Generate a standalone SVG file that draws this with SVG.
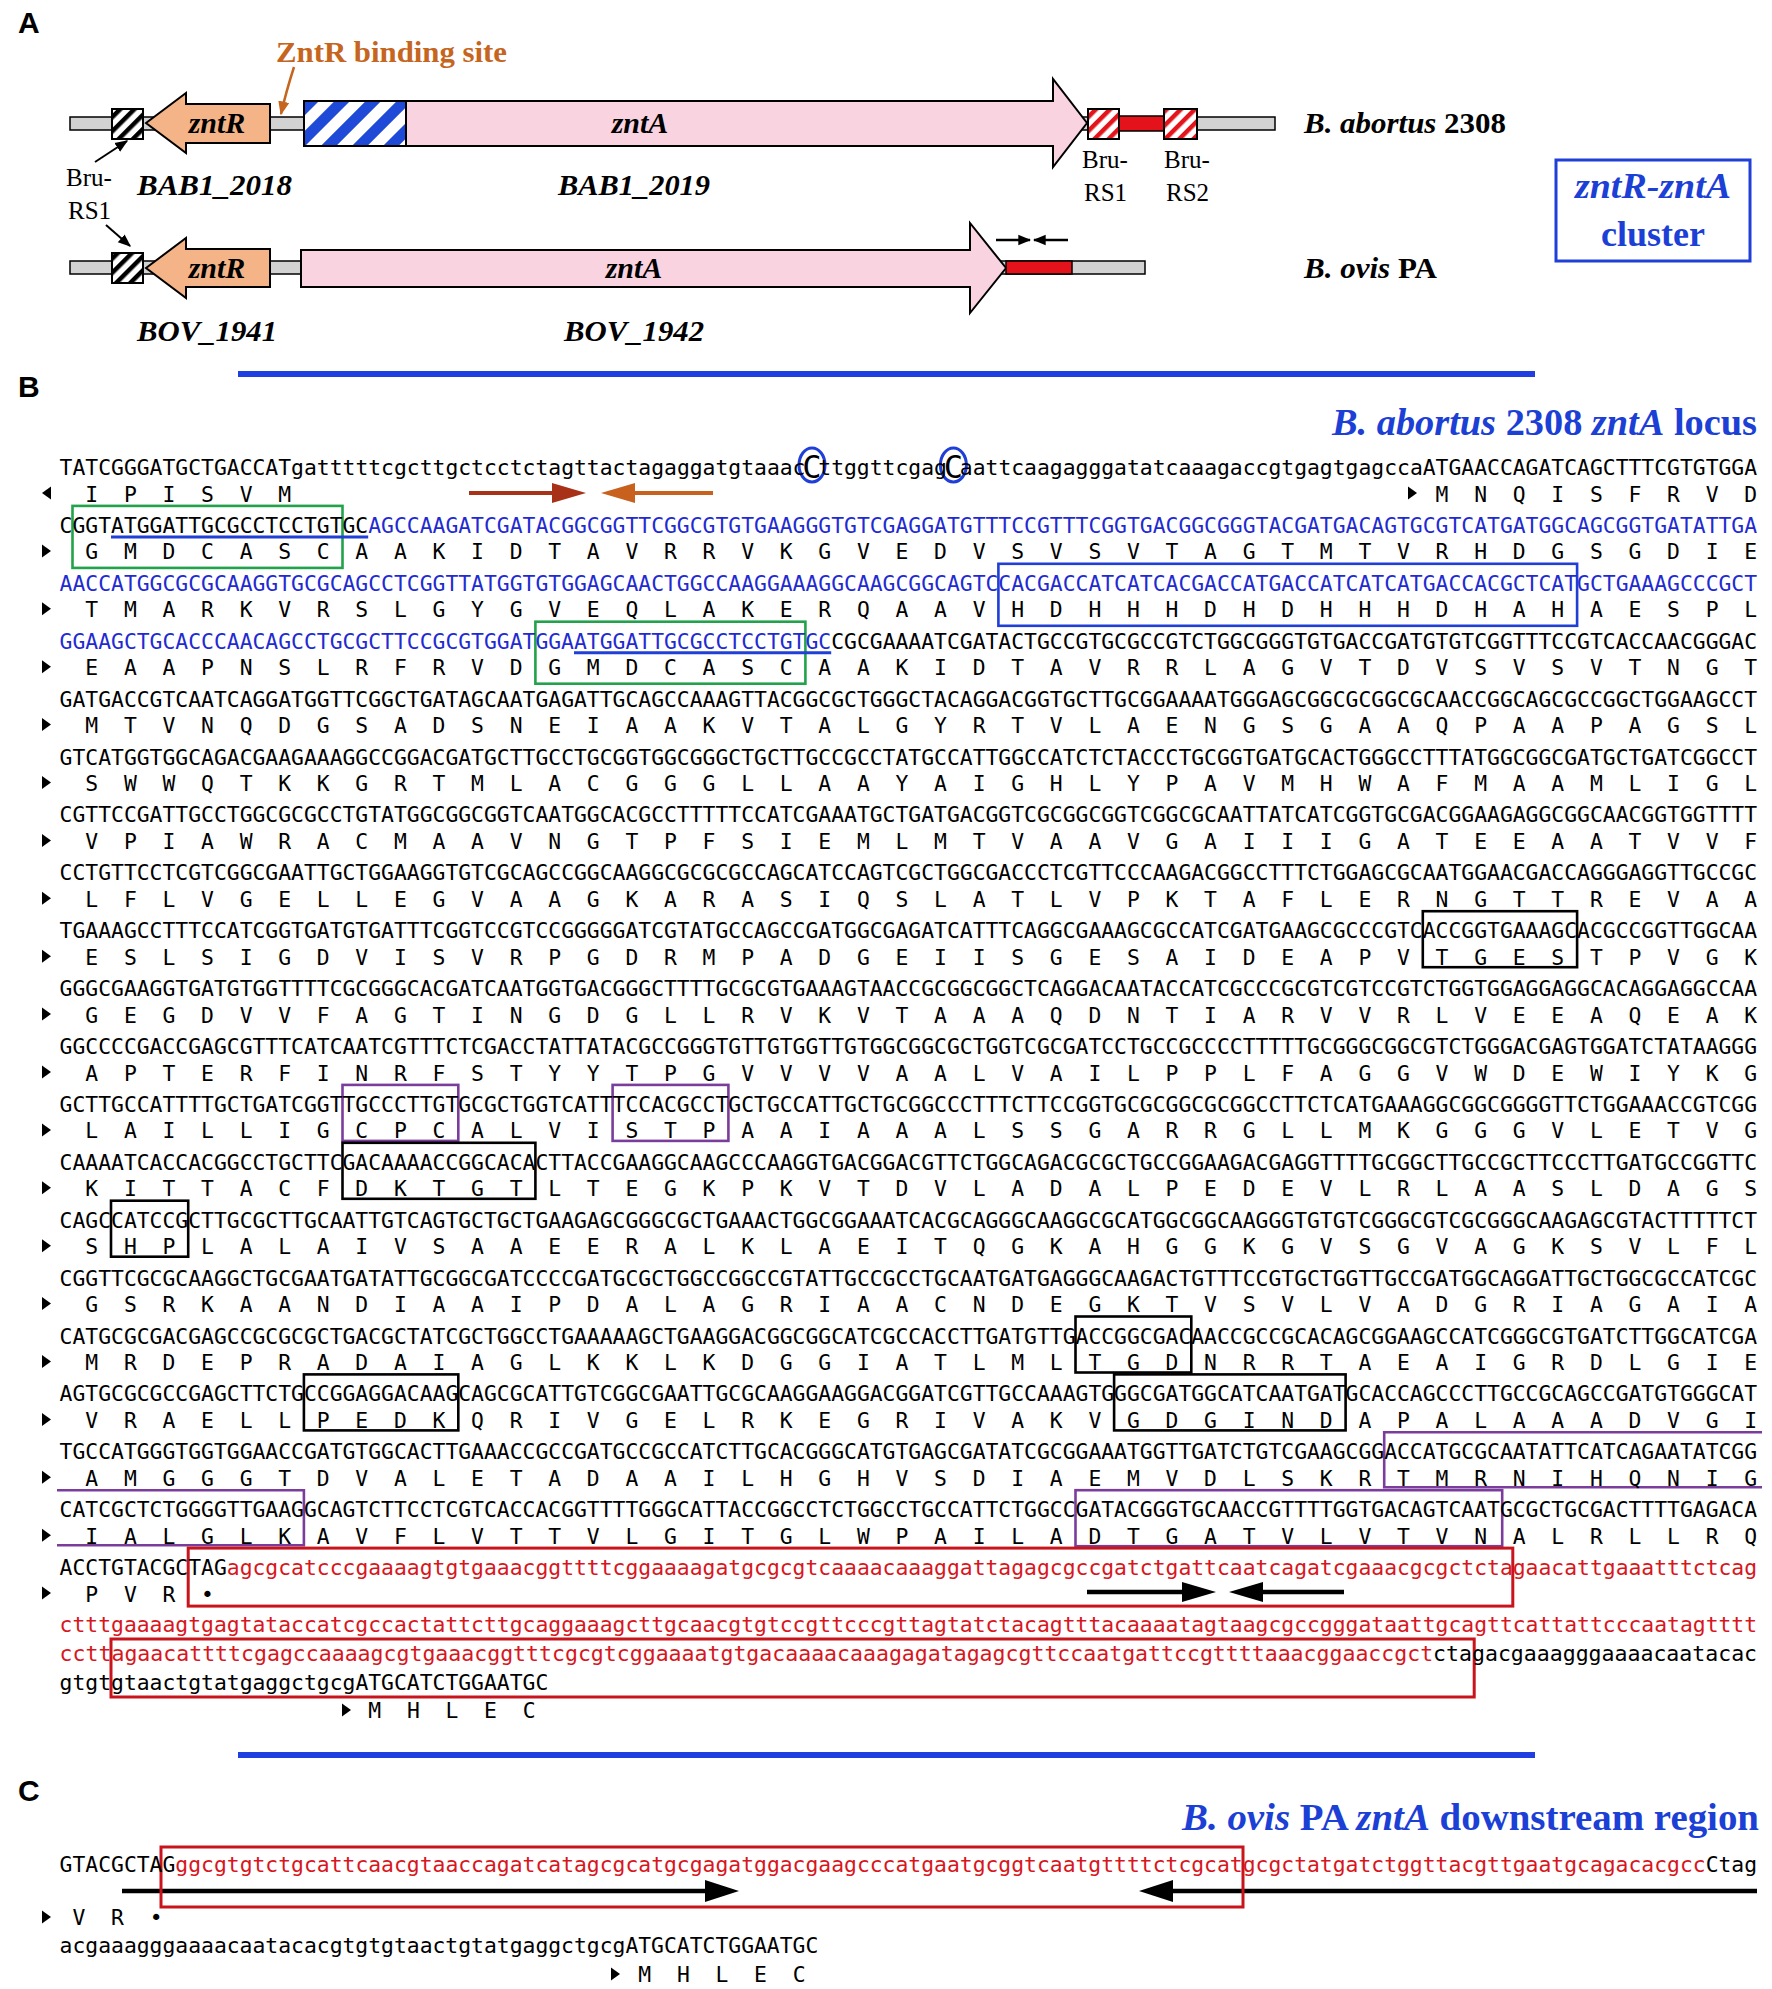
<svg xmlns="http://www.w3.org/2000/svg" width="1772" height="1989" viewBox="0 0 1772 1989">
<defs>
<style>
.d{font-family:"DejaVu Sans Mono","Liberation Mono",monospace;font-size:21.36px;fill:#000}
.p{font-family:"DejaVu Sans Mono","Liberation Mono",monospace;font-size:21.36px;letter-spacing:25.72px;fill:#000}
.z{letter-spacing:0}
.bu{fill:#1f2bd2}
.rd{fill:#d8161d}
.bx{fill:none;stroke-width:2.6}
.g{stroke:#22a24b}
.bb{stroke:#1f3fd6}
.k{stroke:#000}
.pu{stroke:#7b3d9c}
.rb{fill:none;stroke:#c9141b;stroke-width:3}
.s{font-family:"Liberation Serif","Times New Roman",serif;font-weight:bold}
.it{font-style:italic}
.rg{font-family:"Liberation Serif","Times New Roman",serif;font-size:25px;fill:#000}
.lab{font-family:"Liberation Sans",Arial,sans-serif;font-weight:bold;font-size:30px;fill:#000}
.gray{fill:#d2d2d2;stroke:#000;stroke-width:1.5}
.gene{stroke:#000;stroke-width:2}
.ttl{fill:#1c3fd6}
.bigc{font-family:"DejaVu Sans Mono","Liberation Mono",monospace;font-size:32px;fill:#000}
</style>
<pattern id="hk" width="10" height="10" patternUnits="userSpaceOnUse" patternTransform="rotate(45)"><rect width="10" height="10" fill="#fff"/><rect width="4.5" height="10" fill="#000"/></pattern>
<pattern id="hb" width="22" height="22" patternUnits="userSpaceOnUse" patternTransform="rotate(45)"><rect width="22" height="22" fill="#fff"/><rect width="11" height="22" fill="#1f4ad8"/></pattern>
<pattern id="hr" width="10" height="10" patternUnits="userSpaceOnUse" patternTransform="rotate(45)"><rect width="10" height="10" fill="#fff"/><rect width="4.5" height="10" fill="#e3141c"/></pattern>
<path id="tr" d="M0,-6.5 L9,0 L0,6.5Z" fill="#000"/>
<path id="tl" d="M9,-6.5 L0,0 L9,6.5Z" fill="#000"/>
<marker id="mk" viewBox="0 0 10 10" refX="9" refY="5" markerWidth="13" markerHeight="13" markerUnits="userSpaceOnUse" orient="auto"><path d="M0,1 L10,5 L0,9Z" fill="#000"/></marker>
<marker id="mo" viewBox="0 0 10 10" refX="9" refY="5" markerWidth="14" markerHeight="14" markerUnits="userSpaceOnUse" orient="auto"><path d="M0,1 L10,5 L0,9Z" fill="#c5651e"/></marker>
</defs>
<rect width="1772" height="1989" fill="#fff"/>

<!-- ================= PANEL A ================= -->
<g id="panelA">
<text class="lab" x="18" y="33">A</text>
<g id="row-abortus">
<rect class="gray" x="70" y="117" width="1205" height="13"/>
<rect id="bru-rs1-a" x="112" y="109" width="31" height="30" fill="url(#hk)" stroke="#000" stroke-width="2"/>
<g id="zntR-a"><path class="gene" d="M146,123 L186,93 L186,104 L270,104 L270,143 L186,143 L186,153 Z" fill="#f5b487"/>
<text class="s it" x="217" y="133" font-size="30" text-anchor="middle">zntR</text></g>
<rect id="zntr-site" x="304" y="101" width="102" height="45" fill="url(#hb)" stroke="#000" stroke-width="2"/>
<g id="zntA-a"><path class="gene" d="M406,101 L1053,101 L1053,79 L1087,123 L1053,167 L1053,146 L406,146 Z" fill="#f9d3e0"/>
<text class="s it" x="640" y="133" font-size="30" text-anchor="middle">zntA</text></g>
<rect id="bru-rs1-b" x="1088" y="109" width="31" height="30" fill="url(#hr)" stroke="#000" stroke-width="2"/>
<rect x="1119" y="116" width="45" height="15" fill="#e3121b" stroke="#000" stroke-width="1.5"/>
<rect id="bru-rs2" x="1164" y="109" width="33" height="30" fill="url(#hr)" stroke="#000" stroke-width="2"/>
<text class="s" x="1304" y="133" font-size="30" textLength="202" lengthAdjust="spacingAndGlyphs"><tspan class="it">B. abortus</tspan> 2308</text>
<text class="s it" x="137" y="195" font-size="30" textLength="155" lengthAdjust="spacingAndGlyphs">BAB1_2018</text>
<text class="s it" x="558" y="195" font-size="30" textLength="152" lengthAdjust="spacingAndGlyphs">BAB1_2019</text>
<text class="rg" x="1082" y="168">Bru-</text><text class="rg" x="1084" y="201">RS1</text>
<text class="rg" x="1164" y="168">Bru-</text><text class="rg" x="1166" y="201">RS2</text>
</g>
<text class="s" x="276" y="62" font-size="30" fill="#c5651e" textLength="231" lengthAdjust="spacingAndGlyphs">ZntR binding site</text>
<text class="rg" x="66" y="186">Bru-</text><text class="rg" x="68" y="219">RS1</text>
<g id="row-ovis">
<rect class="gray" x="70" y="261" width="1075" height="13"/>
<rect x="112" y="253" width="31" height="30" fill="url(#hk)" stroke="#000" stroke-width="2"/>
<g id="zntR-o"><path class="gene" d="M146,268 L186,238 L186,249 L270,249 L270,287 L186,287 L186,298 Z" fill="#f5b487"/>
<text class="s it" x="217" y="278" font-size="30" text-anchor="middle">zntR</text></g>
<g id="zntA-o"><path class="gene" d="M301,250 L970,250 L970,223 L1006,268 L970,313 L970,287 L301,287 Z" fill="#f9d3e0"/>
<text class="s it" x="634" y="278" font-size="30" text-anchor="middle">zntA</text></g>
<rect x="1006" y="261" width="66" height="13" fill="#e3121b" stroke="#000" stroke-width="1.5"/>
<text class="s" x="1304" y="278" font-size="30" textLength="133" lengthAdjust="spacingAndGlyphs"><tspan class="it">B. ovis</tspan> PA</text>
<text class="s it" x="137" y="341" font-size="30" textLength="140" lengthAdjust="spacingAndGlyphs">BOV_1941</text>
<text class="s it" x="564" y="341" font-size="30" textLength="140" lengthAdjust="spacingAndGlyphs">BOV_1942</text>
</g>
<g id="cluster-box">
<rect x="1556" y="160" width="194" height="101" fill="none" stroke="#1f3fd6" stroke-width="3"/>
<text class="s it ttl" x="1653" y="198" font-size="36" text-anchor="middle" textLength="156" lengthAdjust="spacingAndGlyphs">zntR-zntA</text>
<text class="s ttl" x="1653" y="246" font-size="36" text-anchor="middle">cluster</text>
</g>
</g>

<g id="connectors">
<path d="M294,67 Q286,92 281,114" fill="none" stroke="#c5651e" stroke-width="2.5" marker-end="url(#mo)"/>
<line x1="95" y1="162" x2="127" y2="141" stroke="#000" stroke-width="2" marker-end="url(#mk)"/>
<line x1="106" y1="225" x2="130" y2="246" stroke="#000" stroke-width="2" marker-end="url(#mk)"/>
<line x1="996" y1="240" x2="1030" y2="240" stroke="#000" stroke-width="2.5" marker-end="url(#mk)"/>
<line x1="1068" y1="240" x2="1034" y2="240" stroke="#000" stroke-width="2.5" marker-end="url(#mk)"/>
<line x1="469" y1="493" x2="556" y2="493" stroke="#a83218" stroke-width="4"/>
<polygon points="552,483 586,493 552,503" fill="#a83218"/>
<polygon points="635,483 601,493 635,503" fill="#c8601e"/>
<line x1="632" y1="493" x2="713" y2="493" stroke="#c8601e" stroke-width="4"/>
<line x1="1087" y1="1592" x2="1186" y2="1592" stroke="#000" stroke-width="4.5"/>
<polygon points="1182,1582 1216,1592 1182,1602" fill="#000"/>
<polygon points="1263,1582 1229,1592 1263,1602" fill="#000"/>
<line x1="1259" y1="1592" x2="1344" y2="1592" stroke="#000" stroke-width="4.5"/>
<line x1="122" y1="1891" x2="709" y2="1891" stroke="#000" stroke-width="4.5"/>
<polygon points="705,1880 739,1891 705,1902" fill="#000"/>
<polygon points="1173,1880 1139,1891 1173,1902" fill="#000"/>
<line x1="1169" y1="1891" x2="1757" y2="1891" stroke="#000" stroke-width="4.5"/>
</g>

<rect x="238" y="371" width="1297" height="6" fill="#1f3fe0"/>

<!-- ================= PANEL B ================= -->
<g id="panelB">
<text class="lab" x="18" y="397">B</text>
<text class="s ttl" x="1757" y="435" font-size="37" text-anchor="end" textLength="425" lengthAdjust="spacingAndGlyphs"><tspan class="it">B. abortus</tspan> 2308 <tspan class="it">zntA</tspan> locus</text>

<g id="boxes">
<rect class="bx g" x="72.5" y="505.9" width="270" height="62"/>
<line x1="111" y1="536.9" x2="368.2" y2="536.9" stroke="#1f3fd6" stroke-width="3"/>
<rect class="bx bb" x="998.4" y="563.8" width="578.7" height="62"/>
<rect class="bx g" x="535.4" y="621.7" width="270" height="62"/>
<line x1="574" y1="652.7" x2="831.2" y2="652.7" stroke="#1f3fd6" stroke-width="3"/>
<rect class="bx k" x="1422.8" y="911.2" width="154.3" height="56"/>
<rect class="bx pu" x="342.5" y="1084.9" width="115.8" height="56"/>
<rect class="bx pu" x="612.6" y="1084.9" width="115.8" height="56"/>
<rect class="bx k" x="342.5" y="1142.8" width="192.9" height="56"/>
<rect class="bx k" x="111" y="1200.7" width="77.2" height="56"/>
<rect class="bx k" x="1075.5" y="1316.5" width="115.8" height="56"/>
<rect class="bx k" x="303.9" y="1374.4" width="154.4" height="56"/>
<rect class="bx k" x="1114.1" y="1374.4" width="231.5" height="56"/>
<path class="bx pu" d="M1762,1432.3 H1384.2 V1487.3 H1762"/>
<path class="bx pu" d="M57,1490.2 H303.9 V1545.2 H57"/>
<rect class="bx pu" x="1075.5" y="1490.2" width="426.7" height="56"/>
<rect class="rb" x="188.2" y="1548.1" width="1324.6" height="58"/>
<rect class="rb" x="111" y="1639" width="1363.2" height="58"/>
<ellipse cx="812" cy="465" rx="13" ry="17" fill="none" stroke="#1f3fd6" stroke-width="3"/>
<ellipse cx="953.4" cy="465" rx="13" ry="17" fill="none" stroke="#1f3fd6" stroke-width="3"/>
</g>

<g id="sequence">
<!-- r0 -->
<text class="d" x="59.6" y="475" textLength="745.9" lengthAdjust="spacingAndGlyphs">TATCGGGATGCTGACCATgatttttcgcttgctcctctagttactagaggatgtaaac</text>
<text class="bigc" x="811.9" y="478" text-anchor="middle">C</text>
<text class="d" x="818.3" y="475" textLength="128.6" lengthAdjust="spacingAndGlyphs">ttggttcgag</text>
<text class="bigc" x="953.4" y="478" text-anchor="middle">C</text>
<text class="d" x="959.8" y="475" textLength="797.3" lengthAdjust="spacingAndGlyphs">aattcaagagggatatcaaagaccgtgagtgagccaATGAACCAGATCAGCTTTCGTGTGGA</text>
<use href="#tl" x="42" y="493"/>
<text class="p" x="85.32" y="501.5">IPISV<tspan class="z">M</tspan></text>
<use href="#tr" x="1408" y="493"/>
<text class="p" x="1435.62" y="501.5">MNQISFRV<tspan class="z">D</tspan></text>
<!-- r1 -->
<text class="d" x="59.6" y="532.9" textLength="1697.5" lengthAdjust="spacingAndGlyphs">CGGTATGGATTGCGCCTCCTGTGC<tspan class="bu">AGCCAAGATCGATACGGCGGTTCGGCGTGTGAAGGGTGTCGAGGATGTTTCCGTTTCGGTGACGGCGGGTACGATGACAGTGCGTCATGATGGCAGCGGTGATATTGA</tspan></text>
<use href="#tr" x="42" y="550.9"/>
<text class="p" x="85.32" y="559.4">GMDCASCAAKIDTAVRRVKGVEDVSVSVTAGTMTVRHDGSGDI<tspan class="z">E</tspan></text>
<!-- r2 -->
<text class="d bu" x="59.6" y="590.8" textLength="1697.5" lengthAdjust="spacingAndGlyphs">AACCATGGCGCGCAAGGTGCGCAGCCTCGGTTATGGTGTGGAGCAACTGGCCAAGGAAAGGCAAGCGGCAGTCCACGACCATCATCACGACCATGACCATCATCATGACCACGCTCATGCTGAAAGCCCGCT</text>
<use href="#tr" x="42" y="608.8"/>
<text class="p" x="85.32" y="617.3">TMARKVRSLGYGVEQLAKERQAAVHDHHHDHDHHHDHAHAESP<tspan class="z">L</tspan></text>
<!-- r3 -->
<text class="d" x="59.6" y="648.7" textLength="1697.5" lengthAdjust="spacingAndGlyphs"><tspan class="bu">GGAAGCTGCACCCAACAGCCTGCGCTTCCGCGTGGATGGAATGGATTGCGCCTCCTGTGC</tspan>CGCGAAAATCGATACTGCCGTGCGCCGTCTGGCGGGTGTGACCGATGTGTCGGTTTCCGTCACCAACGGGAC</text>
<use href="#tr" x="42" y="666.7"/>
<text class="p" x="85.32" y="675.2">EAAPNSLRFRVDGMDCASCAAKIDTAVRRLAGVTDVSVSVTNG<tspan class="z">T</tspan></text>
<!-- r4 -->
<text class="d" x="59.6" y="706.6" textLength="1697.5" lengthAdjust="spacingAndGlyphs">GATGACCGTCAATCAGGATGGTTCGGCTGATAGCAATGAGATTGCAGCCAAAGTTACGGCGCTGGGCTACAGGACGGTGCTTGCGGAAAATGGGAGCGGCGCGGCGCAACCGGCAGCGCCGGCTGGAAGCCT</text>
<use href="#tr" x="42" y="724.6"/>
<text class="p" x="85.32" y="733.1">MTVNQDGSADSNEIAAKVTALGYRTVLAENGSGAAQPAAPAGS<tspan class="z">L</tspan></text>
<!-- r5 -->
<text class="d" x="59.6" y="764.5" textLength="1697.5" lengthAdjust="spacingAndGlyphs">GTCATGGTGGCAGACGAAGAAAGGCCGGACGATGCTTGCCTGCGGTGGCGGGCTGCTTGCCGCCTATGCCATTGGCCATCTCTACCCTGCGGTGATGCACTGGGCCTTTATGGCGGCGATGCTGATCGGCCT</text>
<use href="#tr" x="42" y="782.5"/>
<text class="p" x="85.32" y="791">SWWQTKKGRTMLACGGGLLAAYAIGHLYPAVMHWAFMAAMLIG<tspan class="z">L</tspan></text>
<!-- r6 -->
<text class="d" x="59.6" y="822.4" textLength="1697.5" lengthAdjust="spacingAndGlyphs">CGTTCCGATTGCCTGGCGCGCCTGTATGGCGGCGGTCAATGGCACGCCTTTTTCCATCGAAATGCTGATGACGGTCGCGGCGGTCGGCGCAATTATCATCGGTGCGACGGAAGAGGCGGCAACGGTGGTTTT</text>
<use href="#tr" x="42" y="840.4"/>
<text class="p" x="85.32" y="848.9">VPIAWRACMAAVNGTPFSIEMLMTVAAVGAIIIGATEEAATVV<tspan class="z">F</tspan></text>
<!-- r7 -->
<text class="d" x="59.6" y="880.3" textLength="1697.5" lengthAdjust="spacingAndGlyphs">CCTGTTCCTCGTCGGCGAATTGCTGGAAGGTGTCGCAGCCGGCAAGGCGCGCGCCAGCATCCAGTCGCTGGCGACCCTCGTTCCCAAGACGGCCTTTCTGGAGCGCAATGGAACGACCAGGGAGGTTGCCGC</text>
<use href="#tr" x="42" y="898.3"/>
<text class="p" x="85.32" y="906.8">LFLVGELLEGVAAGKARASIQSLATLVPKTAFLERNGTTREVA<tspan class="z">A</tspan></text>
<!-- r8 -->
<text class="d" x="59.6" y="938.2" textLength="1697.5" lengthAdjust="spacingAndGlyphs">TGAAAGCCTTTCCATCGGTGATGTGATTTCGGTCCGTCCGGGGGATCGTATGCCAGCCGATGGCGAGATCATTTCAGGCGAAAGCGCCATCGATGAAGCGCCCGTCACCGGTGAAAGCACGCCGGTTGGCAA</text>
<use href="#tr" x="42" y="956.2"/>
<text class="p" x="85.32" y="964.7">ESLSIGDVISVRPGDRMPADGEIISGESAIDEAPVTGESTPVG<tspan class="z">K</tspan></text>
<!-- r9 -->
<text class="d" x="59.6" y="996.1" textLength="1697.5" lengthAdjust="spacingAndGlyphs">GGGCGAAGGTGATGTGGTTTTCGCGGGCACGATCAATGGTGACGGGCTTTTGCGCGTGAAAGTAACCGCGGCGGCTCAGGACAATACCATCGCCCGCGTCGTCCGTCTGGTGGAGGAGGCACAGGAGGCCAA</text>
<use href="#tr" x="42" y="1014.1"/>
<text class="p" x="85.32" y="1022.6">GEGDVVFAGTINGDGLLRVKVTAAAQDNTIARVVRLVEEAQEA<tspan class="z">K</tspan></text>
<!-- r10 -->
<text class="d" x="59.6" y="1054" textLength="1697.5" lengthAdjust="spacingAndGlyphs">GGCCCCGACCGAGCGTTTCATCAATCGTTTCTCGACCTATTATACGCCGGGTGTTGTGGTTGTGGCGGCGCTGGTCGCGATCCTGCCGCCCCTTTTTGCGGGCGGCGTCTGGGACGAGTGGATCTATAAGGG</text>
<use href="#tr" x="42" y="1072"/>
<text class="p" x="85.32" y="1080.5">APTERFINRFSTYYTPGVVVVAALVAILPPLFAGGVWDEWIYK<tspan class="z">G</tspan></text>
<!-- r11 -->
<text class="d" x="59.6" y="1111.9" textLength="1697.5" lengthAdjust="spacingAndGlyphs">GCTTGCCATTTTGCTGATCGGTTGCCCTTGTGCGCTGGTCATTTCCACGCCTGCTGCCATTGCTGCGGCCCTTTCTTCCGGTGCGCGGCGCGGCCTTCTCATGAAAGGCGGCGGGGTTCTGGAAACCGTCGG</text>
<use href="#tr" x="42" y="1129.9"/>
<text class="p" x="85.32" y="1138.4">LAILLIGCPCALVISTPAAIAAALSSGARRGLLMKGGGVLETV<tspan class="z">G</tspan></text>
<!-- r12 -->
<text class="d" x="59.6" y="1169.8" textLength="1697.5" lengthAdjust="spacingAndGlyphs">CAAAATCACCACGGCCTGCTTCGACAAAACCGGCACACTTACCGAAGGCAAGCCCAAGGTGACGGACGTTCTGGCAGACGCGCTGCCGGAAGACGAGGTTTTGCGGCTTGCCGCTTCCCTTGATGCCGGTTC</text>
<use href="#tr" x="42" y="1187.8"/>
<text class="p" x="85.32" y="1196.3">KITTACFDKTGTLTEGKPKVTDVLADALPEDEVLRLAASLDAG<tspan class="z">S</tspan></text>
<!-- r13 -->
<text class="d" x="59.6" y="1227.7" textLength="1697.5" lengthAdjust="spacingAndGlyphs">CAGCCATCCGCTTGCGCTTGCAATTGTCAGTGCTGCTGAAGAGCGGGCGCTGAAACTGGCGGAAATCACGCAGGGCAAGGCGCATGGCGGCAAGGGTGTGTCGGGCGTCGCGGGCAAGAGCGTACTTTTTCT</text>
<use href="#tr" x="42" y="1245.7"/>
<text class="p" x="85.32" y="1254.2">SHPLALAIVSAAEERALKLAEITQGKAHGGKGVSGVAGKSVLF<tspan class="z">L</tspan></text>
<!-- r14 -->
<text class="d" x="59.6" y="1285.6" textLength="1697.5" lengthAdjust="spacingAndGlyphs">CGGTTCGCGCAAGGCTGCGAATGATATTGCGGCGATCCCCGATGCGCTGGCCGGCCGTATTGCCGCCTGCAATGATGAGGGCAAGACTGTTTCCGTGCTGGTTGCCGATGGCAGGATTGCTGGCGCCATCGC</text>
<use href="#tr" x="42" y="1303.6"/>
<text class="p" x="85.32" y="1312.1">GSRKAANDIAAIPDALAGRIAACNDEGKTVSVLVADGRIAGAI<tspan class="z">A</tspan></text>
<!-- r15 -->
<text class="d" x="59.6" y="1343.5" textLength="1697.5" lengthAdjust="spacingAndGlyphs">CATGCGCGACGAGCCGCGCGCTGACGCTATCGCTGGCCTGAAAAAGCTGAAGGACGGCGGCATCGCCACCTTGATGTTGACCGGCGACAACCGCCGCACAGCGGAAGCCATCGGGCGTGATCTTGGCATCGA</text>
<use href="#tr" x="42" y="1361.5"/>
<text class="p" x="85.32" y="1370">MRDEPRADAIAGLKKLKDGGIATLMLTGDNRRTAEAIGRDLGI<tspan class="z">E</tspan></text>
<!-- r16 -->
<text class="d" x="59.6" y="1401.4" textLength="1697.5" lengthAdjust="spacingAndGlyphs">AGTGCGCGCCGAGCTTCTGCCGGAGGACAAGCAGCGCATTGTCGGCGAATTGCGCAAGGAAGGACGGATCGTTGCCAAAGTGGGCGATGGCATCAATGATGCACCAGCCCTTGCCGCAGCCGATGTGGGCAT</text>
<use href="#tr" x="42" y="1419.4"/>
<text class="p" x="85.32" y="1427.9">VRAELLPEDKQRIVGELRKEGRIVAKVGDGINDAPALAAADVG<tspan class="z">I</tspan></text>
<!-- r17 -->
<text class="d" x="59.6" y="1459.3" textLength="1697.5" lengthAdjust="spacingAndGlyphs">TGCCATGGGTGGTGGAACCGATGTGGCACTTGAAACCGCCGATGCCGCCATCTTGCACGGGCATGTGAGCGATATCGCGGAAATGGTTGATCTGTCGAAGCGGACCATGCGCAATATTCATCAGAATATCGG</text>
<use href="#tr" x="42" y="1477.3"/>
<text class="p" x="85.32" y="1485.8">AMGGGTDVALETADAAILHGHVSDIAEMVDLSKRTMRNIHQNI<tspan class="z">G</tspan></text>
<!-- r18 -->
<text class="d" x="59.6" y="1517.2" textLength="1697.5" lengthAdjust="spacingAndGlyphs">CATCGCTCTGGGGTTGAAGGCAGTCTTCCTCGTCACCACGGTTTTGGGCATTACCGGCCTCTGGCCTGCCATTCTGGCCGATACGGGTGCAACCGTTTTGGTGACAGTCAATGCGCTGCGACTTTTGAGACA</text>
<use href="#tr" x="42" y="1535.2"/>
<text class="p" x="85.32" y="1543.7">IALGLKAVFLVTTVLGITGLWPAILADTGATVLVTVNALRLLR<tspan class="z">Q</tspan></text>
<!-- r19 -->
<text class="d" x="59.6" y="1575.1" textLength="1697.5" lengthAdjust="spacingAndGlyphs">ACCTGTACGCTAG<tspan class="rd">agcgcatcccgaaaagtgtgaaacggttttcggaaaagatgcgcgtcaaaacaaaggattagagcgccgatctgattcaatcagatcgaaacgcgctctagaacattgaaatttctcag</tspan></text>
<use href="#tr" x="42" y="1593.1"/>
<text class="p" x="85.32" y="1601.6">PVR<tspan class="z">•</tspan></text>
<!-- downstream -->
<text class="d rd" x="59.6" y="1632" textLength="1697.5" lengthAdjust="spacingAndGlyphs">ctttgaaaagtgagtataccatcgccactattcttgcaggaaagcttgcaacgtgtccgttcccgttagtatctacagtttacaaaatagtaagcgccgggataattgcagttcattattcccaatagtttt</text>
<text class="d" x="59.6" y="1661" textLength="1697.5" lengthAdjust="spacingAndGlyphs"><tspan class="rd">ccttagaacattttcgagccaaaagcgtgaaacggtttcgcgtcggaaaatgtgacaaaacaaagagatagagcgttccaatgattccgttttaaacggaaccgct</tspan>ctagacgaaagggaaaacaatacac</text>
<text class="d" x="59.6" y="1690" textLength="488.7" lengthAdjust="spacingAndGlyphs">gtgtgtaactgtatgaggctgcgATGCATCTGGAATGC</text>
<use href="#tr" x="342" y="1710"/>
<text class="p" x="368.3" y="1718">MHLE<tspan class="z">C</tspan></text>
</g>
</g>

<rect x="238" y="1752" width="1297" height="6" fill="#1f3fe0"/>

<!-- ================= PANEL C ================= -->
<g id="panelC">
<text class="lab" x="18" y="1801">C</text>
<text class="s ttl" x="1759" y="1830" font-size="37" text-anchor="end" textLength="577" lengthAdjust="spacingAndGlyphs"><tspan class="it">B. ovis</tspan> PA <tspan class="it">zntA</tspan> downstream region</text>
<rect class="rb" x="161" y="1847" width="1082" height="60"/>
<text class="d" x="59.6" y="1872" textLength="1697.5" lengthAdjust="spacingAndGlyphs">GTACGCTAG<tspan class="rd">ggcgtgtctgcattcaacgtaaccagatcatagcgcatgcgagatggacgaagcccatgaatgcggtcaatgttttctcgcatgcgctatgatctggttacgttgaatgcagacacgcc</tspan>Ctag</text>
<use href="#tr" x="42" y="1917"/>
<text class="p" x="72.5" y="1925">VR<tspan class="z">•</tspan></text>
<text class="d" x="59.6" y="1953" textLength="758.7" lengthAdjust="spacingAndGlyphs">acgaaagggaaaacaatacacgtgtgtaactgtatgaggctgcgATGCATCTGGAATGC</text>
<use href="#tr" x="611" y="1974"/>
<text class="p" x="638.3" y="1982">MHLE<tspan class="z">C</tspan></text>
</g>
</svg>
